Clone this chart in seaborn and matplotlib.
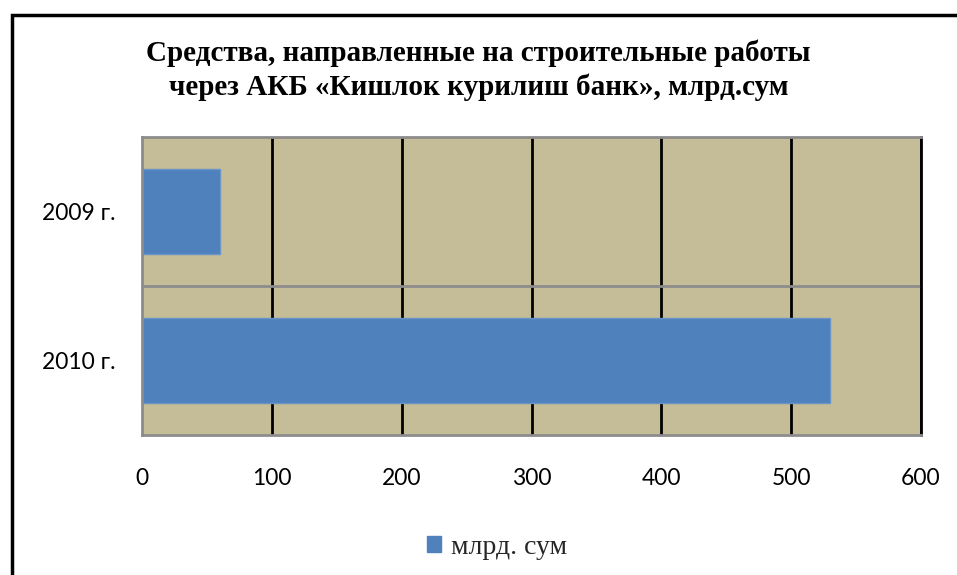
import matplotlib
matplotlib.use("Agg")
import matplotlib.pyplot as plt
import matplotlib.patches as mpatches
import pandas as pd
import seaborn as sb

years = ['2009 г.', '2010 г.']
values = [60, 530]
series_name = 'млрд. сум'
title = 'Средства, направленные на строительные работы\nчерез АКБ «Кишлок курилиш банк», млрд.сум'

bar_color = '#4F81BD'
bg_color = '#C4BD97'

df = pd.DataFrame({'year': years, 'value': values})

sb.set_style('white')
plt.rcParams['font.family'] = ['Lato', 'DejaVu Sans']

fig = plt.figure(figsize=(9.57, 5.75), dpi=100)
W, H = 957, 575
ax = fig.add_axes([142 / W, 1 - 435 / H, (921 - 142) / W, (435 - 137) / H])

sb.barplot(data=df, x='value', y='year', orient='h', color=bar_color,
           width=0.57, ax=ax, saturation=1, edgecolor='#6A93C6', linewidth=1)

ax.set_facecolor(bg_color)
ax.set_xlim(0, 600)
ax.set_ylim(1.5, -0.5)
ax.set_xticks(range(0, 601, 100))
ax.set_xlabel('')
ax.set_ylabel('')
ax.tick_params(axis='both', length=0, labelsize=16.5, colors='black')
ax.tick_params(axis='x', pad=24)
ax.tick_params(axis='y', pad=19)
if ax.get_legend() is not None:
    ax.get_legend().remove()

# vertical grid lines
for v in range(100, 601, 100):
    ax.axvline(v, color='black', lw=2, zorder=0.5)
ax.axhline(0.5, color='#8C8C8C', lw=2, zorder=0.5)
ax.set_axisbelow(True)
for side in ['left', 'top', 'bottom']:
    ax.spines[side].set_color('#8C8C8C')
    ax.spines[side].set_linewidth(2)
ax.spines['right'].set_color('black')
ax.spines['right'].set_linewidth(2)

fig.text(0.5, 1 - 70 / H, title, ha='center', va='center', fontsize=21,
         fontweight='bold', family=['Liberation Serif', 'DejaVu Serif'],
         linespacing=1.3, color='black')

handle = mpatches.Patch(color=bar_color, label=series_name)
fig.legend(handles=[handle], loc='center', bbox_to_anchor=(497 / W, 1 - 547 / H),
           frameon=False, prop={'family': ['Liberation Serif'], 'size': 20},
           handlelength=0.5, handleheight=0.5, handletextpad=0.35)

# outer border
border = mpatches.Rectangle((12 / W, -0.05), 1.0, 1 - 15 / H + 0.05,
                            transform=fig.transFigure, fill=False,
                            edgecolor='black', lw=2.5, clip_on=False)
fig.patches.append(border)

fig.savefig('out.png', dpi=100)
